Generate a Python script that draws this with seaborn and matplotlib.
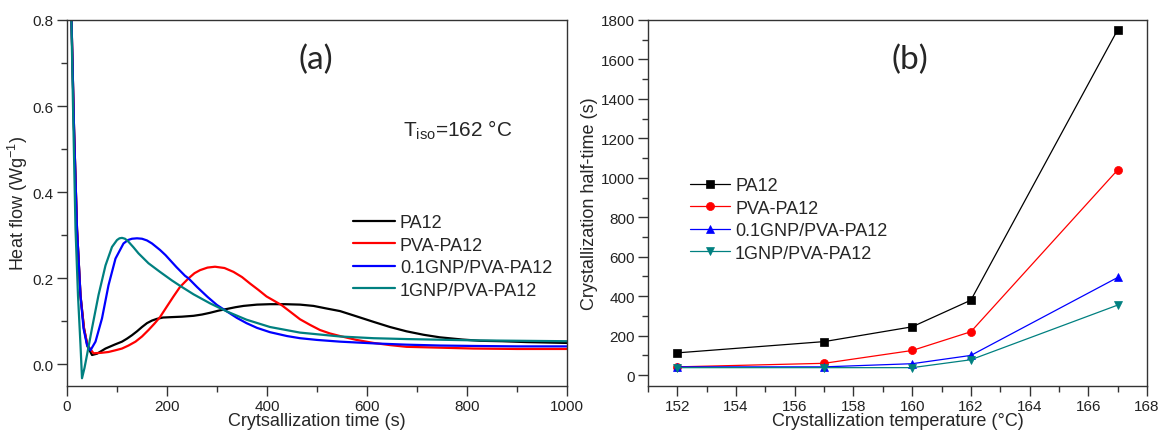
import pandas as pd
import matplotlib
matplotlib.use("Agg")
import matplotlib.pyplot as plt
import seaborn as sns
from matplotlib.ticker import MultipleLocator

# ---- panel (a): isothermal DSC curves at 162 °C ----
pa12_t = [8, 14, 20, 27, 34, 41, 50, 60, 77, 95, 110, 120, 130, 140, 150, 160, 170, 180, 192, 210, 230,
          253, 270, 286, 303, 320, 337, 353, 380, 406, 436, 466, 493, 519, 546, 573, 613, 646, 679, 713,
          746, 790, 826, 870, 919, 960, 1000]
pa12_hf = [0.85, 0.55, 0.315, 0.16, 0.084, 0.042, 0.022, 0.025, 0.037, 0.046, 0.053, 0.060, 0.068, 0.077,
           0.087, 0.096, 0.102, 0.106, 0.109, 0.110, 0.111, 0.113, 0.116, 0.120, 0.125, 0.129, 0.133, 0.136,
           0.139, 0.140, 0.140, 0.139, 0.136, 0.130, 0.124, 0.114, 0.099, 0.087, 0.077, 0.069, 0.063, 0.058,
           0.055, 0.054, 0.052, 0.051, 0.050]

pva_t = [8, 14, 20, 27, 34, 41, 53, 68, 83, 97, 110, 123, 137, 150, 163, 175, 186, 200, 213, 226, 243,
         255, 266, 281, 296, 315, 333, 350, 366, 383, 399, 414, 429, 447, 466, 486, 506, 526, 546, 579, 613,
         646, 679, 746, 813, 900, 1000]
pva_hf = [0.85, 0.55, 0.315, 0.16, 0.084, 0.045, 0.026, 0.027, 0.029, 0.033, 0.037, 0.044, 0.053, 0.065,
          0.080, 0.095, 0.110, 0.135, 0.158, 0.180, 0.200, 0.212, 0.219, 0.225, 0.227, 0.224, 0.215, 0.203,
          0.188, 0.173, 0.158, 0.148, 0.138, 0.122, 0.105, 0.092, 0.080, 0.072, 0.066, 0.057, 0.050, 0.045,
          0.041, 0.039, 0.037, 0.036, 0.036]

gnp01_t = [8, 14, 20, 27, 33, 40, 47, 57, 70, 83, 97, 113, 122, 130, 140, 150, 160, 170, 186, 197, 219,
           236, 243, 260, 281, 300, 320, 340, 359, 380, 406, 440, 466, 500, 546, 613, 679, 746, 813, 900, 1000]
gnp01_hf = [0.85, 0.55, 0.315, 0.16, 0.084, 0.045, 0.033, 0.053, 0.107, 0.184, 0.246, 0.281, 0.289, 0.292,
            0.293, 0.292, 0.288, 0.281, 0.266, 0.254, 0.226, 0.206, 0.200, 0.180, 0.157, 0.138, 0.123, 0.108,
            0.096, 0.085, 0.075, 0.066, 0.061, 0.057, 0.053, 0.049, 0.046, 0.044, 0.043, 0.042, 0.042]

gnp1_t = [8, 12, 17, 22, 27, 30, 35, 40, 50, 63, 77, 90, 100, 105, 110, 116, 123, 133, 143, 163, 186, 210,
          227, 253, 286, 320, 359, 406, 466, 546, 613, 679, 813, 1000]
gnp1_hf = [0.85, 0.60, 0.315, 0.16, 0.045, -0.032, -0.008, 0.022, 0.084, 0.161, 0.230, 0.273, 0.289,
           0.293, 0.294, 0.292, 0.285, 0.272, 0.258, 0.235, 0.215, 0.195, 0.182, 0.163, 0.142, 0.123, 0.104,
           0.087, 0.074, 0.065, 0.061, 0.059, 0.056, 0.054]

# ---- panel (b): crystallization half-time ----
temps = [152, 157, 160, 162, 167]
half_pa12 = [113, 170, 245, 380, 1750]
half_pva = [42, 60, 125, 220, 1040]
half_gnp01 = [42, 42, 58, 100, 495]
half_gnp1 = [38, 38, 38, 78, 355]

labels = ["PA12", "PVA-PA12", "0.1GNP/PVA-PA12", "1GNP/PVA-PA12"]
colors = ["#000000", "#ff0000", "#0000ff", "#008080"]
markers = ["s", "o", "^", "v"]

sns.set_theme(style="white")
plt.rcParams["font.family"] = ["Liberation Sans", "DejaVu Sans"]
plt.rcParams["mathtext.fontset"] = "custom"
plt.rcParams["mathtext.rm"] = "Liberation Sans"
plt.rcParams["mathtext.it"] = "Liberation Sans:italic"
plt.rcParams["axes.edgecolor"] = "#333333"
plt.rcParams["axes.linewidth"] = 1.0

fig = plt.figure(figsize=(11.58, 4.31), dpi=100)
W, H = 1158, 431
ax1 = fig.add_axes([67 / W, 1 - 387 / H, 500 / W, 366 / H])
ax2 = fig.add_axes([648 / W, 1 - 387 / H, 499 / W, 366 / H])

curves = [(pa12_t, pa12_hf), (pva_t, pva_hf), (gnp01_t, gnp01_hf), (gnp1_t, gnp1_hf)]
for (t, hf), lab, col in zip(curves, labels, colors):
    sns.lineplot(x=t, y=hf, color=col, linewidth=1.6, label=lab, ax=ax1)

halves = [half_pa12, half_pva, half_gnp01, half_gnp1]
for h, lab, col, mk in zip(halves, labels, colors, markers):
    sns.lineplot(x=temps, y=h, color=col, linewidth=0.9, marker=mk, markersize=5.8,
                 markeredgecolor=col, markeredgewidth=0.5, label=lab, ax=ax2)

# axes (a)
ax1.set_xlim(0, 1000)
ax1.set_ylim(-0.05, 0.8)
ax1.xaxis.set_major_locator(MultipleLocator(200))
ax1.xaxis.set_minor_locator(MultipleLocator(100))
ax1.yaxis.set_major_locator(MultipleLocator(0.2))
ax1.yaxis.set_minor_locator(MultipleLocator(0.1))
ax1.set_xlabel("Crytsallization time (s)", fontsize=13, labelpad=-0.5)
ax1.set_ylabel("Heat flow (Wg$^{-1}$)", fontsize=13, labelpad=2)
ax1.text(0.498, 0.893, "(a)", transform=ax1.transAxes, ha="center", va="center",
         fontsize=24, family=["Lato", "DejaVu Sans"])
ax1.text(0.672, 0.683, r"T$_{\mathrm{iso}}$=162 °C", transform=ax1.transAxes,
         ha="left", va="baseline", fontsize=15)
ax1.legend(loc="center left", bbox_to_anchor=(0.572, 0.354), frameon=False, fontsize=13,
           handlelength=2.3, handletextpad=0.3, labelspacing=0.3, borderpad=0, borderaxespad=0)

# axes (b)
ax2.set_xlim(151, 168)
ax2.set_ylim(-55, 1800)
ax2.xaxis.set_major_locator(MultipleLocator(2))
ax2.xaxis.set_minor_locator(MultipleLocator(1))
ax2.yaxis.set_major_locator(MultipleLocator(200))
ax2.yaxis.set_minor_locator(MultipleLocator(100))
ax2.set_xlabel("Crystallization temperature (°C)", fontsize=13, labelpad=-0.5)
ax2.set_ylabel("Crystallization half-time (s)", fontsize=13, labelpad=2)
ax2.text(0.524, 0.893, "(b)", transform=ax2.transAxes, ha="center", va="center",
         fontsize=24, family=["Lato", "DejaVu Sans"])
ax2.legend(loc="center left", bbox_to_anchor=(0.084, 0.455), frameon=False, fontsize=13,
           handlelength=2.2, handletextpad=0.3, labelspacing=0.3, borderpad=0, borderaxespad=0)

for ax in (ax1, ax2):
    ax.tick_params(which="major", direction="out", length=7, width=1, labelsize=11, pad=2.5,
                   colors="#333333", labelcolor="#222222", bottom=True, left=True, top=False, right=False)
    ax.tick_params(which="minor", direction="out", length=4, width=1, colors="#333333",
                   bottom=True, left=True, top=False, right=False)
    for s in ax.spines.values():
        s.set_visible(True)

fig.savefig("out.png", dpi=100)
